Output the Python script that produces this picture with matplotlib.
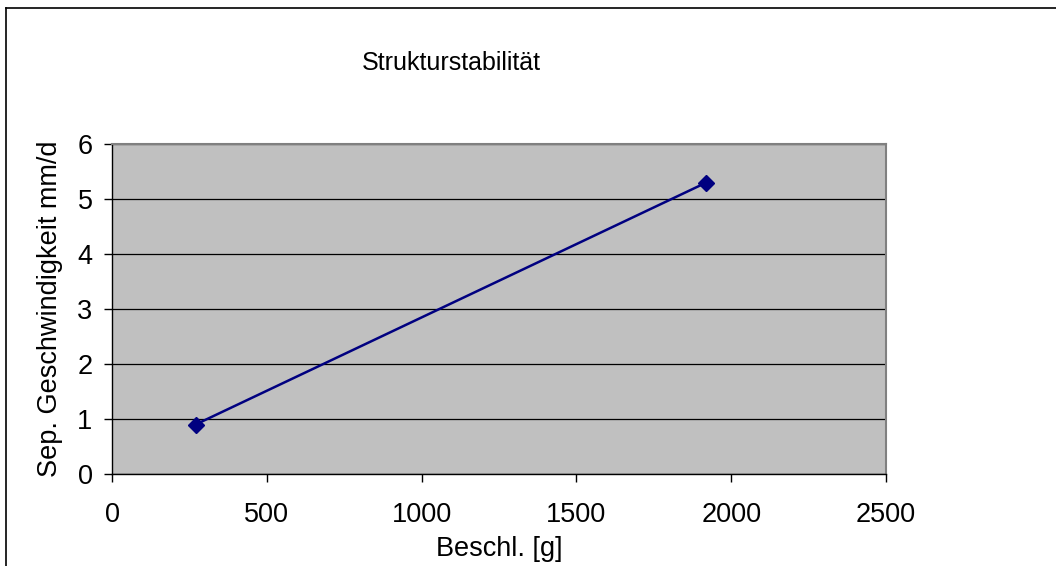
import matplotlib
matplotlib.use("Agg")
import matplotlib.pyplot as plt
from matplotlib.lines import Line2D

plt.rcParams['font.family'] = ['Liberation Sans', 'DejaVu Sans']

# data
beschl = [270, 1920]
sep_speed = [0.9, 5.3]
x_ticks = [0, 500, 1000, 1500, 2000, 2500]
y_ticks = [0, 1, 2, 3, 4, 5, 6]

fig = plt.figure(figsize=(10.56, 5.66), dpi=100)
ax = fig.add_axes([112/1056, 1 - 474/566, 774/1056, 330/566])
ax.set_facecolor('#C0C0C0')

ax.plot(beschl, sep_speed, color='#000080', lw=1.8, marker='D', ms=8.5,
        mec='#000080', mfc='#000080', zorder=3, clip_on=False)

ax.set_xlim(0, 2500)
ax.set_ylim(0, 6)
ax.set_xticks(x_ticks)
ax.set_yticks(y_ticks)
ax.yaxis.grid(True, color='black', lw=0.9)
ax.set_axisbelow(True)

for side in ['top', 'right']:
    ax.spines[side].set_color('#808080')
    ax.spines[side].set_linewidth(1.5)
for side in ['left', 'bottom']:
    ax.spines[side].set_color('black')
    ax.spines[side].set_linewidth(1.0)

ax.tick_params(axis='both', direction='out', length=6, width=1, labelsize=19.5)
ax.tick_params(axis='x', pad=14)
ax.tick_params(axis='y', pad=8)

ax.set_xlabel('Beschl. [g]', fontsize=19.5, labelpad=6)
ax.set_ylabel('Sep. Geschwindigkeit mm/d', fontsize=19.5, labelpad=10)
fig.text(451/1056, 1 - 63/566, 'Strukturstabilität', fontsize=18,
         ha='center', va='center')

# outer chart frame (left and top edges visible)
fig.add_artist(Line2D([6/1056, 6/1056], [0, 1 - 8/566], color='black', lw=1.2,
                      transform=fig.transFigure))
fig.add_artist(Line2D([6/1056, 1], [1 - 8/566, 1 - 8/566], color='black', lw=1.2,
                      transform=fig.transFigure))

fig.savefig('out.png', dpi=100)
